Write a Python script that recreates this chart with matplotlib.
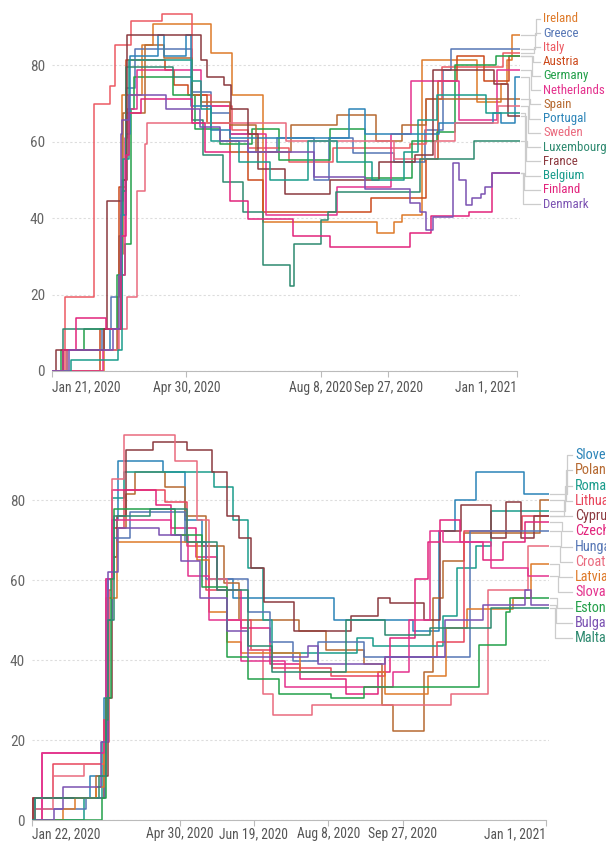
import numpy as np
import pandas as pd
import matplotlib
matplotlib.use("Agg")
import matplotlib.pyplot as plt
import matplotlib.dates as mdates
from matplotlib.lines import Line2D

FONT = ['Liberation Sans Narrow', 'Roboto Condensed', 'Liberation Sans', 'DejaVu Sans']
plt.rcParams['font.family'] = FONT

# ---------------- top panel: step series (month-day in 2020, value) ----------------
IRELAND = [("01-21", 0), ("02-29", 11.1), ("03-12", 48.2), ("03-13", 72.2), ("03-28", 85.2), ("04-05", 90.7),
           ("05-18", 83.3), ("06-03", 72.2), ("06-26", 38.9), ("09-19", 36.1), ("10-01", 38.9), ("10-07", 40.7),
           ("10-22", 81.5), ("12-02", 70.4), ("12-20", 75.0), ("12-24", 81.5), ("12-28", 88.0)]
GREECE = [("01-21", 0), ("01-29", 5.6), ("02-27", 11.1), ("03-05", 19.4), ("03-11", 35.2), ("03-13", 50.0),
          ("03-16", 74.1), ("03-23", 84.3), ("05-04", 73.1), ("05-18", 67.6), ("06-01", 62.0), ("06-15", 57.4),
          ("07-06", 61.1), ("08-03", 50.0), ("08-14", 61.1), ("09-01", 57.0), ("10-01", 54.6), ("10-24", 63.0),
          ("11-07", 78.7), ("11-13", 84.3)]
ITALY = [("01-21", 0), ("01-31", 19.4), ("02-21", 69.8), ("03-04", 74.5), ("03-08", 85.2), ("03-20", 91.7),
         ("04-12", 93.5), ("05-04", 72.2), ("05-18", 69.4), ("06-03", 63.0), ("06-15", 58.3), ("07-15", 54.6),
         ("08-17", 58.3), ("10-13", 59.3), ("10-25", 71.3), ("11-06", 79.6), ("12-21", 83.3)]
AUSTRIA = [("01-21", 0), ("02-26", 11.1), ("03-10", 19.4), ("03-11", 48.2), ("03-16", 81.5), ("04-14", 78.7),
           ("04-21", 74.8), ("05-01", 72.2), ("05-15", 64.8), ("06-01", 57.4), ("06-15", 50.0), ("06-26", 41.7),
           ("09-14", 45.4), ("10-25", 55.6), ("11-03", 75.9), ("11-17", 82.4), ("12-07", 75.9), ("12-26", 82.4)]
GERMANY = [("01-21", 0), ("01-28", 5.6), ("02-14", 11.1), ("03-09", 25.0), ("03-15", 33.3), ("03-20", 68.5),
           ("03-22", 76.9), ("04-20", 72.2), ("05-06", 63.4), ("05-25", 59.3), ("06-18", 63.4), ("07-08", 55.1),
           ("08-15", 63.4), ("09-10", 50.5), ("10-15", 60.2), ("11-02", 62.5), ("11-16", 80.1), ("12-16", 82.4)]
NETHERLANDS = [("01-21", 0), ("02-28", 5.6), ("03-10", 11.1), ("03-12", 25.0), ("03-15", 61.1), ("03-17", 68.5),
               ("03-24", 78.7), ("05-11", 69.4), ("06-01", 62.0), ("06-28", 40.7), ("08-20", 48.1), ("09-29", 62.0),
               ("10-14", 75.9), ("11-19", 65.7), ("12-17", 78.7)]
SPAIN = [("01-21", 0), ("02-01", 5.6), ("03-09", 11.1), ("03-12", 30.6), ("03-14", 67.6), ("03-30", 85.2),
         ("04-13", 81.9), ("05-04", 72.2), ("05-11", 70.4), ("06-01", 64.4), ("06-21", 57.4), ("07-17", 64.4),
         ("08-20", 67.1), ("09-18", 60.2), ("10-07", 64.4), ("10-25", 71.3)]
PORTUGAL = [("01-21", 0), ("02-01", 5.6), ("03-04", 11.1), ("03-12", 40.7), ("03-16", 62.0), ("03-19", 82.4),
            ("04-09", 87.9), ("04-13", 82.4), ("04-30", 87.9), ("05-03", 69.4), ("05-18", 63.0), ("06-01", 61.1),
            ("08-29", 68.5), ("09-10", 62.0), ("11-04", 64.8), ("12-14", 67.6), ("12-20", 64.8), ("12-30", 76.9)]
SWEDEN = [("01-21", 0), ("02-01", 5.6), ("03-11", 11.1), ("03-17", 19.4), ("03-24", 47.2), ("03-30", 59.3),
          ("04-01", 64.8), ("07-13", 60.2), ("10-01", 55.6), ("11-01", 60.2), ("11-16", 64.8), ("12-18", 69.4)]
LUXEMBOURG = [("01-21", 0), ("01-29", 11.1), ("03-13", 47.2), ("03-16", 79.6), ("04-20", 76.9), ("05-04", 65.7),
              ("05-12", 56.5), ("05-27", 49.4), ("06-11", 41.6), ("06-26", 27.8), ("07-16", 22.2), ("07-19", 33.3),
              ("08-08", 39.5), ("08-13", 41.6), ("08-19", 46.8), ("10-21", 55.6), ("11-30", 60.2)]
FRANCE = [("01-21", 0), ("01-24", 5.6), ("02-29", 11.1), ("03-02", 44.4), ("03-14", 50.0), ("03-17", 88.0),
          ("05-11", 81.5), ("05-15", 76.9), ("05-28", 74.8), ("06-02", 68.5), ("06-15", 62.0), ("06-22", 52.8),
          ("07-12", 46.3), ("08-15", 50.0), ("09-20", 54.6), ("10-17", 56.5), ("10-30", 78.7), ("12-15", 75.0),
          ("12-25", 66.7)]
BELGIUM = [("01-21", 0), ("02-04", 2.8), ("03-10", 5.6), ("03-13", 40.7), ("03-14", 55.6), ("03-18", 81.5),
           ("05-04", 75.9), ("05-11", 68.5), ("05-18", 60.2), ("06-08", 54.6), ("07-01", 50.0), ("07-29", 60.2),
           ("08-20", 54.6), ("09-15", 50.0), ("10-09", 57.4), ("10-19", 65.7), ("11-02", 72.2), ("12-09", 67.6)]
FINLAND = [("01-21", 0), ("01-29", 5.6), ("02-08", 13.9), ("03-01", 11.1), ("03-12", 35.2), ("03-16", 56.5),
           ("03-18", 67.6), ("03-27", 71.3), ("05-04", 64.8), ("05-14", 57.4), ("06-01", 44.4), ("06-15", 39.8),
           ("07-18", 35.2), ("08-15", 32.4), ("10-13", 36.1), ("10-29", 40.5), ("11-26", 41.7), ("12-13", 51.9)]
DENMARK = [("01-21", 0), ("02-03", 5.6), ("03-06", 11.1), ("03-11", 25.0), ("03-12", 62.0), ("03-13", 65.7),
           ("03-18", 72.2), ("04-15", 68.5), ("05-10", 63.9), ("05-25", 60.2), ("06-15", 57.4), ("08-03", 50.9),
           ("09-10", 47.6), ("10-13", 44.0), ("10-21", 41.7), ("10-25", 36.9), ("10-30", 40.3), ("11-14", 54.4),
           ("11-19", 50.0), ("11-24", 43.5), ("11-28", 45.4), ("12-05", 46.3), ("12-08", 48.1), ("12-13", 51.9)]

TOP_NAMES = ["Ireland", "Greece", "Italy", "Austria", "Germany", "Netherlands", "Spain", "Portugal",
             "Sweden", "Luxembourg", "France", "Belgium", "Finland", "Denmark"]
TOP_SERIES = [IRELAND, GREECE, ITALY, AUSTRIA, GERMANY, NETHERLANDS, SPAIN, PORTUGAL,
              SWEDEN, LUXEMBOURG, FRANCE, BELGIUM, FINLAND, DENMARK]
TOP_COLORS = ["#de7a2a", "#5676b5", "#ec5a63", "#cc4a1c", "#23a04a", "#e4338e", "#b66a32", "#2b84b8",
              "#ea6b7f", "#2e8a70", "#8c3a40", "#1b9c8c", "#e2247c", "#7b52b2"]
TOP_TICKS = ["2020-01-21", "2020-04-30", "2020-08-08", "2020-09-27", "2021-01-01"]
TOP_TICK_LABELS = ["Jan 21, 2020", "Apr 30, 2020", "Aug 8, 2020", "Sep 27, 2020", "Jan 1, 2021"]

# ---------------- bottom panel ----------------
SLOVENIA = [("01-22", 0), ("01-24", 5.6), ("03-01", 11.1), ("03-10", 30.6), ("03-13", 60.2), ("03-16", 75.0),
            ("03-20", 89.8), ("04-19", 87.0), ("05-04", 75.0), ("05-15", 68.5), ("05-25", 60.2), ("06-05", 55.6),
            ("08-12", 50.0), ("10-04", 47.2), ("10-21", 72.2), ("11-01", 80.1), ("11-15", 87.0), ("12-17", 81.5)]
POLAND = [("01-22", 0), ("01-23", 5.6), ("03-05", 11.1), ("03-10", 25.0), ("03-13", 50.0), ("03-16", 73.1),
          ("03-25", 81.5), ("03-31", 87.0), ("04-20", 83.3), ("05-04", 75.9), ("05-18", 68.5), ("05-30", 59.3),
          ("06-09", 50.0), ("07-19", 47.2), ("08-06", 42.6), ("09-01", 38.9), ("09-13", 28.8), ("09-20", 22.2),
          ("10-11", 37.0), ("10-17", 55.6), ("10-24", 64.8), ("11-07", 71.8), ("12-28", 80.1)]
ROMANIA = [("01-22", 0), ("02-26", 5.6), ("03-09", 19.4), ("03-12", 55.6), ("03-16", 80.6), ("03-24", 87.0),
           ("05-23", 83.3), ("06-05", 75.0), ("06-15", 63.0), ("06-25", 50.0), ("07-01", 41.7), ("08-27", 45.4),
           ("09-07", 43.5), ("10-24", 50.9), ("11-02", 63.0), ("11-15", 68.5), ("11-25", 77.3)]
LITHUANIA = [("01-22", 0), ("01-23", 5.6), ("02-05", 13.9), ("03-10", 19.4), ("03-14", 57.4), ("03-16", 73.1),
             ("03-24", 82.4), ("04-20", 79.6), ("05-05", 68.5), ("05-18", 57.4), ("06-01", 50.0), ("06-17", 42.6),
             ("07-01", 38.0), ("08-10", 36.1), ("09-15", 40.7), ("10-20", 44.4), ("11-07", 72.2), ("12-16", 75.9)]
CYPRUS = [("01-22", 0), ("01-23", 5.6), ("03-10", 11.1), ("03-13", 30.6), ("03-16", 65.7), ("03-19", 75.9),
          ("03-25", 92.6), ("04-12", 94.4), ("05-05", 92.6), ("05-22", 87.0), ("06-01", 75.9), ("06-09", 70.4),
          ("06-17", 63.0), ("06-26", 54.6), ("07-16", 47.2), ("08-23", 50.9), ("09-10", 55.6), ("09-18", 54.2),
          ("10-11", 50.0), ("10-22", 72.2), ("11-05", 78.7), ("11-25", 70.4), ("12-05", 79.6), ("12-15", 70.4),
          ("12-24", 75.9)]
CZECHIA = [("01-22", 0), ("01-29", 16.7), ("03-10", 25.0), ("03-12", 60.2), ("03-16", 82.4), ("04-14", 78.7),
           ("04-24", 73.1), ("05-11", 65.7), ("05-25", 57.4), ("06-10", 48.1), ("06-30", 38.9), ("07-20", 35.2),
           ("08-20", 31.5), ("09-10", 37.0), ("09-18", 45.4), ("10-05", 60.2), ("10-14", 69.4), ("10-22", 75.0),
           ("11-04", 69.4), ("11-20", 65.0), ("12-03", 69.4), ("12-18", 74.5)]
HUNGARY = [("01-22", 0), ("01-24", 2.8), ("02-27", 5.6), ("03-11", 19.4), ("03-12", 50.0), ("03-16", 70.4),
           ("03-28", 76.9), ("05-04", 69.4), ("05-18", 60.2), ("06-15", 51.9), ("06-30", 44.4), ("07-15", 39.8),
           ("08-01", 44.4), ("09-01", 40.7), ("11-11", 72.2)]
CROATIA = [("01-22", 0), ("01-24", 2.8), ("02-05", 11.1), ("02-26", 13.9), ("03-10", 25.0), ("03-13", 55.6),
           ("03-16", 85.2), ("03-24", 96.3), ("04-27", 89.8), ("05-12", 75.0), ("05-20", 60.2), ("06-01", 50.0),
           ("06-15", 42.6), ("06-25", 31.5), ("07-02", 26.3), ("07-28", 28.7), ("10-29", 31.5), ("11-23", 57.4),
           ("12-20", 68.5)]
LATVIA = [("01-22", 0), ("02-12", 2.8), ("02-20", 5.6), ("03-05", 8.3), ("03-10", 25.0), ("03-13", 55.6),
          ("03-19", 69.4), ("05-12", 65.0), ("05-20", 52.0), ("06-01", 44.4), ("06-10", 41.7), ("07-20", 37.0),
          ("09-15", 31.5), ("10-14", 36.1), ("10-26", 48.1), ("11-09", 52.8), ("12-10", 55.6), ("12-22", 64.0)]
SLOVAKIA = [("01-22", 0), ("01-29", 16.7), ("03-10", 25.0), ("03-12", 60.2), ("03-16", 75.0), ("04-24", 71.3),
            ("05-06", 61.1), ("05-20", 50.0), ("06-10", 39.8), ("07-10", 33.3), ("09-20", 37.0), ("10-01", 50.0),
            ("10-15", 72.2), ("10-24", 69.4), ("11-25", 63.0), ("12-20", 61.1)]
ESTONIA = [("01-22", 0), ("03-09", 5.6), ("03-12", 30.6), ("03-15", 60.2), ("03-17", 77.8), ("04-27", 71.3),
           ("05-15", 58.3), ("06-01", 40.7), ("06-15", 35.2), ("07-06", 31.5), ("08-10", 30.6), ("09-01", 33.3),
           ("11-17", 43.8), ("12-05", 51.9), ("12-08", 55.6)]
BULGARIA = [("01-22", 0), ("02-06", 2.8), ("02-12", 8.3), ("03-08", 19.4), ("03-13", 62.0), ("03-20", 73.1),
            ("04-16", 71.3), ("05-01", 64.8), ("05-14", 55.6), ("06-01", 47.2), ("06-15", 40.7), ("07-25", 43.5),
            ("08-01", 38.9), ("09-15", 40.7), ("10-25", 50.0), ("11-20", 53.7), ("12-18", 57.4), ("12-22", 53.7)]
MALTA = [("01-22", 0), ("01-24", 5.6), ("03-07", 11.1), ("03-12", 25.0), ("03-13", 50.0), ("03-17", 75.9),
         ("04-10", 77.8), ("05-05", 69.4), ("05-25", 57.4), ("06-15", 43.5), ("07-01", 37.0), ("08-20", 50.0),
         ("09-15", 46.3), ("10-15", 48.1), ("11-25", 53.0)]

BOT_NAMES = ["Slovenia", "Poland", "Romania", "Lithuania", "Cyprus", "Czechia", "Hungary",
             "Croatia", "Latvia", "Slovakia", "Estonia", "Bulgaria", "Malta"]
BOT_SERIES = [SLOVENIA, POLAND, ROMANIA, LITHUANIA, CYPRUS, CZECHIA, HUNGARY,
              CROATIA, LATVIA, SLOVAKIA, ESTONIA, BULGARIA, MALTA]
BOT_COLORS = ["#2b84b8", "#b66a32", "#1b9c8c", "#e8465c", "#8c3a40", "#e2247c", "#5676b5",
              "#ea6b7f", "#de7a2a", "#e4338e", "#23a04a", "#7b52b2", "#2e8a70"]
BOT_TICKS = ["2020-01-22", "2020-04-30", "2020-06-19", "2020-08-08", "2020-09-27", "2021-01-01"]
BOT_TICK_LABELS = ["Jan 22, 2020", "Apr 30, 2020", "Jun 19, 2020", "Aug 8, 2020", "Sep 27, 2020", "Jan 1, 2021"]

END = pd.Timestamp("2021-01-03")
W, H = 606, 842

fig = plt.figure(figsize=(W / 100, H / 100), dpi=100)


def px_rect(left, top, right, bottom):
    return [left / W, 1 - bottom / H, (right - left) / W, (bottom - top) / H]


def draw_panel(rect, start, ymax, series, names, colors, ticks, tick_labels,
               lab_x, lab_y0, lab_y1, elbow0, fs, xpad):
    ax = fig.add_axes(rect)
    for s, c in zip(series, colors):
        d = [pd.Timestamp("2020-" + m) for m, _ in s] + [END]
        v = [val for _, val in s] + [s[-1][1]]
        ax.step(d, v, where="post", color=c, lw=1.1)
    ax.set_xlim(pd.Timestamp(start), END)
    ax.set_ylim(0, ymax)
    for sp in ["top", "right", "left"]:
        ax.spines[sp].set_visible(False)
    ax.spines["bottom"].set_color("#bbbbbb")
    ax.spines["bottom"].set_bounds(mdates.date2num(pd.Timestamp(start)),
                                   mdates.date2num(pd.Timestamp("2021-01-01")))
    ax.set_yticks([0, 20, 40, 60, 80])
    ax.yaxis.grid(True, linestyle=(0, (2, 2)), color="#dddddd", lw=0.8)
    ax.set_axisbelow(True)
    ax.tick_params(axis="y", length=0, pad=5, labelsize=11, labelcolor="#666666")
    tk = [pd.Timestamp(t) for t in ticks]
    ax.set_xticks(tk)
    ax.set_xticklabels(tick_labels)
    ax.tick_params(axis="x", length=4, color="#bbbbbb", labelsize=9.8, labelcolor="#555555", pad=xpad)
    lbls = ax.get_xticklabels()
    lbls[0].set_ha("left")
    lbls[-1].set_ha("right")

    # right-side labels with elbow connectors
    ys = np.linspace(lab_y0, lab_y1, len(names))
    for i, (s, name, c) in enumerate(zip(series, names, colors)):
        ex, ey = ax.transData.transform((mdates.date2num(END), s[-1][1]))
        ey = H - ey
        elb = elbow0 - i
        fig.add_artist(Line2D([(ex + 1) / W, elb / W, elb / W, (lab_x - 3) / W],
                              [1 - ey / H, 1 - ey / H, 1 - ys[i] / H, 1 - ys[i] / H],
                              transform=fig.transFigure, color="#cccccc", lw=0.9))
        fig.text(lab_x / W, 1 - ys[i] / H, name, color=c, fontsize=fs, va="center", ha="left")
    return ax


draw_panel(px_rect(52, 8, 520, 371), "2020-01-21", 95, TOP_SERIES, TOP_NAMES, TOP_COLORS,
           TOP_TICKS, TOP_TICK_LABELS, 543, 19, 204, 536, 9.3, 3)
draw_panel(px_rect(32, 432, 549, 820), "2020-01-22", 97, BOT_SERIES, BOT_NAMES, BOT_COLORS,
           BOT_TICKS, BOT_TICK_LABELS, 575, 455, 638, 567, 10.3, 1)

fig.savefig("out.png", dpi=100)
